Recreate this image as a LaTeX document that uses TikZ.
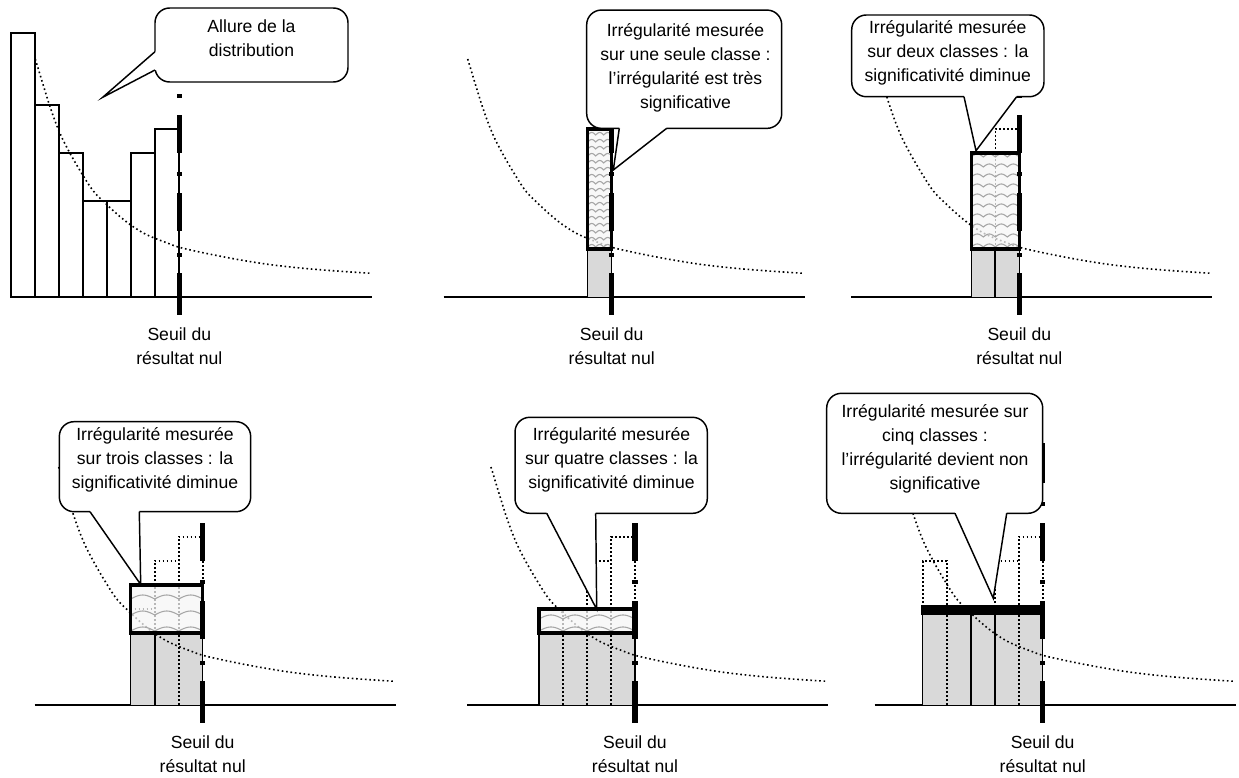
\documentclass[tikz,border=0pt]{standalone}
\usepackage{fontspec}
\setmainfont{Liberation Sans}
\tikzset{
  baseln/.style={line width=1.3pt},
  barline/.style={line width=1.3pt},
  curvestyle/.style={line width=1.2pt, dash pattern=on 1.2pt off 2.1pt},
  dotline/.style={line width=1.2pt, dash pattern=on 1.2pt off 1.8pt},
  thinline/.style={line width=1pt},
  divider/.style={line width=1.5pt},
  lowfill/.style={fill=black!15},
  hibox/.style={line width=2.6pt},
  seuil/.style={line width=3.8pt},
  wave/.style={draw=black!35, line width=0.8pt},
  bubble/.style={rectangle, draw, fill=white, line width=1.1pt, rounded corners=11pt, inner sep=0pt},
  ptr/.style={line width=1.1pt},
  bubbletext/.style={align=center, font=\fontsize{13.2pt}{18pt}\selectfont, inner sep=0pt},
  seuillabel/.style={align=center, font=\fontsize{13.2pt}{18pt}\selectfont, inner sep=0pt}
}
\newcommand{\baseaxis}{\draw[baseln] (-168,0) -- (193,0);}
\newcommand{\distcurve}{\draw[curvestyle] plot[smooth, tension=0.55] coordinates {(-144,238) (-129.3,190.3) (-119.3,163.7) (-109.3,143.7) (-97.6,123.7) (-86,106) (-72.6,92.5) (-60,81) (-49.3,72.5) (-36,64) (-24.3,58.7) (-12,54) (0,49.7) (25,44) (57.4,37.7) (90,32.5) (124,28.7) (160,25.8) (192,23.7)};}
\newcommand{\seuilline}{\foreach \sa/\sb in {262/222, 203/199, 182/144, 125/121, 104/66, 44/40, 24/-18} \draw[seuil] (0,\sa) -- (0,\sb);}
\newcommand{\wavebox}[7]{%
  \begin{scope}
    \clip (#1,#2) rectangle (#3,#4);
    \fill[black!4, opacity=0.75] (#1,#2) rectangle (#3,#4);
    \pgfmathtruncatemacro{\nrows}{(#4-#2)/#6}
    \foreach \k in {0,...,\nrows}{%
      \draw[wave] plot[domain=#1:#3, samples=61] (\x, {#2 + 2 + \k*#6 + #7*abs(sin((\x-(#1))/#5*180))});
    }
  \end{scope}
  \draw[hibox] (#1,#2) rectangle (#3,#4);
}
\begin{document}
\begin{tikzpicture}[x=0.75pt,y=-0.75pt]
\useasboundingbox (0,0) rectangle (1239,778);

% ---------- Panel 1 ----------
\begin{scope}[shift={(179.3,297)}, yscale=-1]
  \baseaxis
  \foreach \a/\hh in {-168/264,-144/192,-120/144,-96/96,-72/96,-48/144,-24/168}
    \draw[barline] (\a,0) rectangle ++(24,\hh);
  \distcurve
  \seuilline
  \node[seuillabel] (s1) at (0,-49) {Seuil du\\résultat nul};
\end{scope}

% ---------- Panel 2 ----------
\begin{scope}[shift={(611.7,297)}, yscale=-1]
  \baseaxis
  \fill[lowfill] (-24,0) rectangle (0,48);
  \draw[thinline] (-24,0) -- (-24,48) (0,0) -- (0,48);
  \distcurve
  \wavebox{-24}{48}{0}{168}{8}{7}{2.5}
  \seuilline
  \node[seuillabel] (s2) at (0,-49) {Seuil du\\résultat nul};
\end{scope}

% ---------- Panel 3 ----------
\begin{scope}[shift={(1019.3,297)}, yscale=-1]
  \baseaxis
  \fill[lowfill] (-48,0) rectangle (0,48);
  \draw[thinline] (-48,0) -- (-48,48) (0,0) -- (0,48);
  \draw[divider] (-24,0) -- (-24,48);
  \distcurve
  \draw[dotline] (-24,48) -- (-24,168) -- (0,168) -- (0,144);
  \wavebox{-48}{48}{0}{144}{12}{10}{3}
  \seuilline
  \node[seuillabel] (s3) at (0,-49) {Seuil du\\résultat nul};
\end{scope}

% ---------- Panel 4 ----------
\begin{scope}[shift={(202.7,705)}, yscale=-1]
  \baseaxis
  \fill[lowfill] (-72,0) rectangle (0,72);
  \draw[thinline] (-72,0) -- (-72,72) (0,0) -- (0,72);
  \draw[divider] (-48,0) -- (-48,72);
  \draw[dotline] (-24,0) -- (-24,72);
  \distcurve
  \draw[dotline] (-72,96) -- (-48,96);
  \draw[dotline] (-48,72) -- (-48,144) -- (-24,144);
  \draw[dotline] (-24,72) -- (-24,168) -- (0,168) -- (0,72);
  \wavebox{-72}{72}{0}{120}{24}{16}{4}
  \seuilline
  \node[seuillabel] (s4) at (0,-49) {Seuil du\\résultat nul};
\end{scope}

% ---------- Panel 5 ----------
\begin{scope}[shift={(635,705)}, yscale=-1]
  \baseaxis
  \fill[lowfill] (-96,0) rectangle (0,72);
  \draw[thinline] (-96,0) -- (-96,72) (0,0) -- (0,72);
  \draw[dotline] (-72,0) -- (-72,96);
  \draw[dotline] (-48,0) -- (-48,144) -- (-24,144);
  \draw[dotline] (-24,0) -- (-24,168) -- (0,168) -- (0,72);
  \distcurve
  \wavebox{-96}{72}{0}{96}{24}{12}{4}
  \seuilline
  \node[seuillabel] (s5) at (0,-49) {Seuil du\\résultat nul};
\end{scope}

% ---------- Panel 6 ----------
\begin{scope}[shift={(1042.7,705)}, yscale=-1]
  \baseaxis
  \fill[lowfill] (-120,0) rectangle (0,90);
  \draw[thinline] (-120,0) -- (-120,90) (0,0) -- (0,90);
  \draw[divider] (-72,0) -- (-72,90) (-48,0) -- (-48,90);
  \draw[dotline] (-96,0) -- (-96,144) -- (-120,144) -- (-120,90);
  \draw[dotline] (-48,90) -- (-48,144) -- (-24,144);
  \draw[dotline] (-24,0) -- (-24,168) -- (0,168) -- (0,90);
  \distcurve
  \fill[black] (-121.3,90) rectangle (1.3,100);
  \seuilline
  \node[seuillabel] (s6) at (0,-49) {Seuil du\\résultat nul};
\end{scope}

% ---------- Callouts ----------
\node[bubble, minimum width=144.75pt, minimum height=55.5pt] (c1) at (251.5,45) {};
\fill[white] (157,51.7) -- (155,51.7) -- (102.7,97.3) -- (155,70) -- (157,70) -- cycle;
\draw[ptr] (155,51.7) -- (102.7,97.3) -- (155,70);
\node[bubbletext] (t1) at (251.5,38.3) {Allure de la\\distribution};

\node[bubble, minimum width=146.25pt, minimum height=88.7pt] (c2) at (684.2,69.2) {};
\fill[white] (619.3,126) -- (619.3,128.3) -- (613.3,170) -- (666.7,128.3) -- (666.7,126) -- cycle;
\draw[ptr] (619.3,128.3) -- (613.3,170) -- (666.7,128.3);
\node[bubbletext] (t2) at (685.5,68.3) {Irrégularité mesurée\\sur une seule classe :\\l’irrégularité est très\\significative};

\node[bubble, minimum width=144.2pt, minimum height=61.3pt] (c3) at (947.85,55.85) {};
\fill[white] (964,94.5) -- (964,96.7) -- (976,150.7) -- (1016.7,96.7) -- (1016.7,94.5) -- cycle;
\draw[ptr] (964,96.7) -- (976,150.7) -- (1016.7,96.7);
\node[bubbletext] (t3) at (947.8,52.7) {Irrégularité mesurée\\sur deux classes : la\\significativité diminue};

\node[bubble, minimum width=143.5pt, minimum height=67.5pt] (c4) at (155,466.7) {};
\fill[white] (90,509.5) -- (90,511.7) -- (140.7,584.5) -- (139.3,511.7) -- (139.3,509.5) -- cycle;
\draw[ptr] (90,511.7) -- (140.7,584.5) -- (139.3,511.7);
\node[bubbletext] (t4) at (155,459.7) {Irrégularité mesurée\\sur trois classes : la\\significativité diminue};

\node[bubble, minimum width=144.2pt, minimum height=72pt] (c5) at (611.15,465.3) {};
\fill[white] (546.7,511.1) -- (546.7,513.3) -- (596.7,609.3) -- (595.7,513.3) -- (595.7,511.1) -- cycle;
\draw[ptr] (546.7,513.3) -- (596.7,609.3) -- (595.7,513.3);
\node[bubbletext] (t5) at (611.5,459.7) {Irrégularité mesurée\\sur quatre classes : la\\significativité diminue};

\node[bubble, minimum width=162pt, minimum height=90pt] (c6) at (934.7,453.3) {};
\fill[white] (955,511.1) -- (955,513.3) -- (993.3,598.3) -- (1006.7,513.3) -- (1006.7,511.1) -- cycle;
\draw[ptr] (955,513.3) -- (993.3,598.3) -- (1006.7,513.3);
\node[bubbletext] (t6) at (935,448.5) {Irrégularité mesurée sur\\cinq classes :\\l’irrégularité devient non\\significative};

\end{tikzpicture}
\end{document}
